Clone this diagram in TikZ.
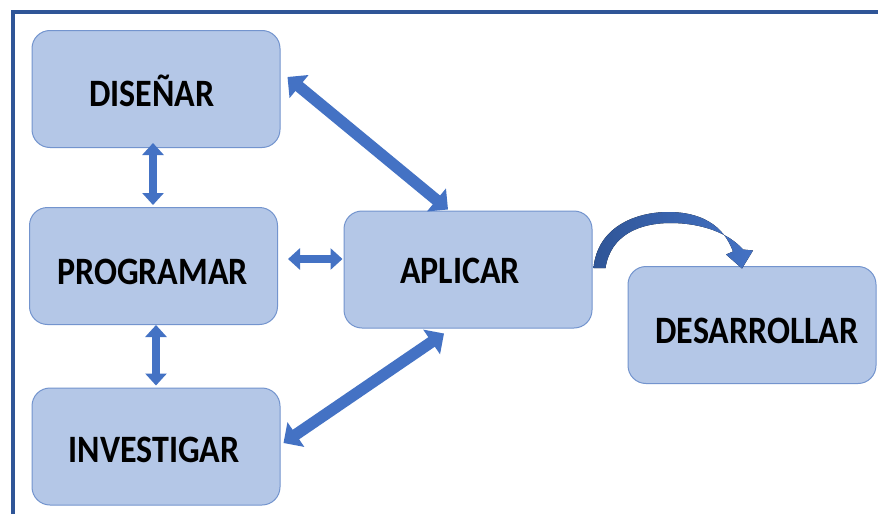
\documentclass[tikz,border=0pt]{standalone}
\usepackage{fontspec}
\setmainfont{Carlito}
\usetikzlibrary{arrows.meta,calc}
\definecolor{boxfill}{HTML}{B4C7E7}
\definecolor{boxline}{HTML}{7394CE}
\definecolor{arr}{HTML}{4472C4}
\definecolor{framecol}{HTML}{2F5597}
\newcommand{\tallbold}[1]{\scalebox{1}[1.14]{#1}}
\begin{document}
\begin{tikzpicture}[x=1pt,y=-1pt,
  box/.style={draw=boxline, line width=1pt, fill=boxfill, rounded corners=18pt,
    minimum width=248pt, minimum height=117pt, inner sep=0pt},
  boxtext/.style={inner sep=0pt, font=\fontsize{34}{40}\selectfont\bfseries},
  bigarrow/.style={draw=arr, line width=11.5pt,
    {Triangle[length=15pt,width=29pt]}-{Triangle[length=15pt,width=29pt]}},
  smallarrow/.style={draw=arr, line width=8pt,
    {Triangle[length=12pt,width=21pt]}-{Triangle[length=12pt,width=21pt]}}]
\useasboundingbox (0,0) rectangle (878,514);
\fill[white] (0,0) rectangle (878,514);
\draw[framecol, line width=4pt] (13,514) -- (13,12) -- (878,12);

\node[box] (dis) at (156,89) {};
\node[box] (pro) at (153.5,266) {};
\node[box] (inv) at (156,446.5) {};
\node[box] (apl) at (468,269.5) {};
\node[box] (des) at (752,325) {};

\node[boxtext] (disT) at ($(dis)+(-4,2)$) {\tallbold{DISEÑAR}};
\node[boxtext] (proT) at ($(pro)+(-1,6)$) {\tallbold{PROGRAMAR}};
\node[boxtext] (invT) at ($(inv)+(-2,3.5)$) {\tallbold{INVESTIGAR}};
\node[boxtext] (aplT) at ($(apl)+(-8,1)$) {\tallbold{APLICAR}};
\node[boxtext] (desT) at ($(des)+(5,6)$) {\tallbold{DESARROLLAR}};

\draw[smallarrow] ($(dis.south)+(-3,-5)$) -- ($(pro.north)+(-0.5,-2)$);
\draw[smallarrow] ($(pro.south)+(2.5,0)$) -- ($(inv.north)+(0,-2)$);
\draw[smallarrow] ($(pro.east)+(10,-7)$) -- ($(apl.west)+(-1,-10.5)$);
\draw[bigarrow] ($(dis.east)+(7,-12)$) -- ($(apl.north)+(-20,-1)$);
\draw[bigarrow] ($(apl.south)+(-24,5)$) -- ($(inv.east)+(3,-3.5)$);

\coordinate (cs) at ($(apl.east)+(1,-1.5)$);
\coordinate (ct) at ($(des.north)+(-10,2.5)$);
\fill[left color=framecol, right color=arr]
  (cs) .. controls ($(cs)+(4,-41)$) and ($(cs)+(42,-56)$) .. ($(cs)+(75,-56)$)
  .. controls ($(cs)+(107,-56)$) and ($(cs)+(130,-43)$) .. ($(ct)+(-9,-17)$)
  -- ($(ct)+(-16,-14)$) -- (ct) -- ($(ct)+(11,-18)$) -- ($(ct)+(1,-19)$)
  .. controls ($(cs)+(135,-35)$) and ($(cs)+(108,-45)$) .. ($(cs)+(77,-45)$)
  .. controls ($(cs)+(46,-45)$) and ($(cs)+(17,-33)$) .. ($(cs)+(12,0)$) -- cycle;
\end{tikzpicture}
\end{document}
